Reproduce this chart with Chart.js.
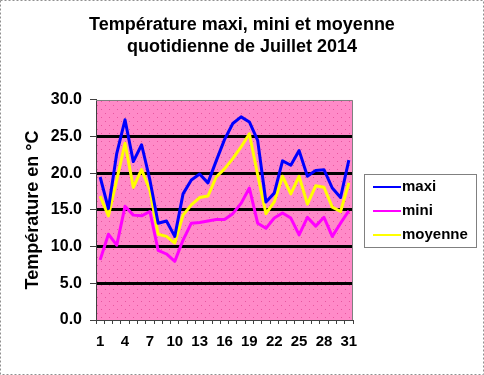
<!DOCTYPE html>
<html>
<head>
<meta charset="utf-8">
<script src="https://cdn.jsdelivr.net/npm/chart.js@4"></script>
<style>
  html, body { margin: 0; padding: 0; background: #fff; }
  #wrap { width: 484px; height: 375px; }
</style>
</head>
<body>
<div id="wrap"><canvas id="chart" width="484" height="375"></canvas></div>
<script>
// Daily temperatures, July 2014
const days = Array.from({ length: 31 }, (_, i) => String(i + 1));
const maxi = [19.5, 15.2, 22.7, 27.3, 21.6, 23.9, 19.1, 13.2, 13.5, 11.4, 17.2, 19.1, 19.9, 18.7, 21.7, 24.6,
    26.8, 27.7, 27.0, 24.5, 16.1, 17.3, 21.7, 21.1, 23.1, 19.6, 20.4, 20.5, 18.0, 16.7, 21.8];
const mini = [8.2, 11.7, 10.2, 15.5, 14.3, 14.2, 14.8, 9.5, 9.0, 8.0, 10.9, 13.2, 13.3, 13.5, 13.7, 13.7,
    14.5, 15.9, 18.0, 13.2, 12.5, 13.9, 14.6, 13.9, 11.6, 14.0, 12.8, 14.0, 11.4, 13.2, 14.9];
const moyenne = [16.9, 14.2, 19.1, 24.1, 18.1, 20.5, 17.7, 11.7, 11.4, 10.5, 14.3, 15.7, 16.7, 16.9, 19.5, 20.6,
    22.0, 23.6, 25.4, 19.8, 14.5, 16.1, 19.6, 17.2, 19.6, 15.8, 18.3, 18.1, 15.4, 14.8, 18.7];

const FONT = 'Arial, "Liberation Sans", sans-serif';

// pink dotted fill for the plot area
function makePattern(ctx) {
    const c = document.createElement('canvas');
    c.width = 8; c.height = 8;
    const p = c.getContext('2d');
    p.fillStyle = '#ff8ac8';
    p.fillRect(0, 0, 8, 8);
    p.fillStyle = '#e8559f';
    p.fillRect(1, 1, 1, 1);
    p.fillRect(5, 5, 1, 1);
    return ctx.createPattern(c, 'repeat');
}

const framePlugin = {
    id: 'frame',
    beforeDraw(chart) {
        const { ctx, chartArea: a, width, height } = chart;
        ctx.save();
        ctx.fillStyle = '#fff';
        ctx.fillRect(0, 0, width, height);
        ctx.fillStyle = makePattern(ctx);
        ctx.fillRect(a.left, a.top, a.right - a.left, a.bottom - a.top);
        ctx.restore();
    },
    afterDraw(chart) {
        const { ctx, chartArea: a, width, height } = chart;
        ctx.save();
        // plot border right + top
        ctx.strokeStyle = '#808080';
        ctx.lineWidth = 1;
        ctx.beginPath();
        ctx.moveTo(a.left, a.top + 0.5);
        ctx.lineTo(a.right - 0.5, a.top + 0.5);
        ctx.lineTo(a.right - 0.5, a.bottom);
        ctx.stroke();

        // legend
        const lx = 364, ly = 174, lw = 112, lh = 73;
        ctx.fillStyle = '#fff';
        ctx.fillRect(lx, ly, lw, lh);
        ctx.strokeStyle = '#808080';
        ctx.strokeRect(lx + 0.5, ly + 0.5, lw, lh);
        ctx.font = 'bold 15px ' + FONT;
        ctx.textBaseline = 'middle';
        ctx.textAlign = 'left';
        chart.data.datasets.forEach((ds, i) => {
            const y = ly + 13 + i * 24;
            ctx.strokeStyle = ds.borderColor;
            ctx.lineWidth = 2;
            ctx.beginPath();
            ctx.moveTo(373, y);
            ctx.lineTo(401, y);
            ctx.stroke();
            ctx.fillStyle = '#000';
            ctx.fillText(ds.label, 402, y);
        });

        // dashed outer border
        ctx.strokeStyle = '#909090';
        ctx.lineWidth = 1;
        ctx.setLineDash([2, 2]);
        ctx.strokeRect(0.5, 0.5, width - 1, height - 1);
        ctx.restore();
    }
};

new Chart(document.getElementById('chart'), {
    type: 'line',
    data: {
        labels: days,
        datasets: [
            { label: 'maxi', data: maxi, borderColor: '#0000ff', borderWidth: 3 },
            { label: 'mini', data: mini, borderColor: '#ff00ff', borderWidth: 3 },
            { label: 'moyenne', data: moyenne, borderColor: '#ffff00', borderWidth: 3 }
        ]
    },
    options: {
        responsive: false,
        animation: false,
        events: [],
        layout: { padding: 0 },
        elements: {
            point: { radius: 0 },
            line: { tension: 0, borderJoinStyle: 'round' }
        },
        plugins: {
            legend: { display: false },
            tooltip: { enabled: false },
            title: {
                display: true,
                text: ['Température maxi, mini et moyenne', 'quotidienne de Juillet 2014'],
                color: '#000',
                font: { family: FONT, size: 18, weight: 'bold', lineHeight: 1.222 },
                padding: { top: 14, bottom: 42 }
            }
        },
        scales: {
            x: {
                offset: true,
                afterFit: s => { s.height = 55; },
                grid: {
                    offset: true,
                    drawOnChartArea: false,
                    tickLength: 4,
                    tickColor: '#404040',
                    tickWidth: 1
                },
                border: { color: '#404040', width: 1 },
                ticks: {
                    autoSkip: false,
                    maxRotation: 0,
                    padding: 9,
                    color: '#000',
                    font: { family: FONT, size: 15, weight: 'bold' },
                    callback: (v, i) => (i % 3 === 0 ? days[i] : '')
                }
            },
            y: {
                min: 0,
                max: 30,
                afterFit: s => { s.width = 96; },
                grid: {
                    color: c => (c.tick.value > 0 && c.tick.value < 30 ? '#000' : 'rgba(0,0,0,0)'),
                    lineWidth: 3,
                    tickLength: 6,
                    tickColor: '#404040',
                    tickWidth: 1
                },
                border: { color: '#404040', width: 1 },
                ticks: {
                    stepSize: 5,
                    padding: 8,
                    color: '#000',
                    font: { family: FONT, size: 16, weight: 'bold' },
                    callback: v => v.toFixed(1)
                },
                title: {
                    display: true,
                    text: 'Température en °C',
                    color: '#000',
                    font: { family: FONT, size: 18, weight: 'bold' },
                    padding: { top: 22 }
                }
            },
            // empty right-hand axis that reserves room for the legend box
            side: {
                position: 'right',
                axis: 'y',
                afterFit: s => { s.width = 131; },
                grid: { display: false },
                border: { display: false },
                ticks: { display: false }
            }
        }
    },
    plugins: [framePlugin]
});
</script>
</body>
</html>
